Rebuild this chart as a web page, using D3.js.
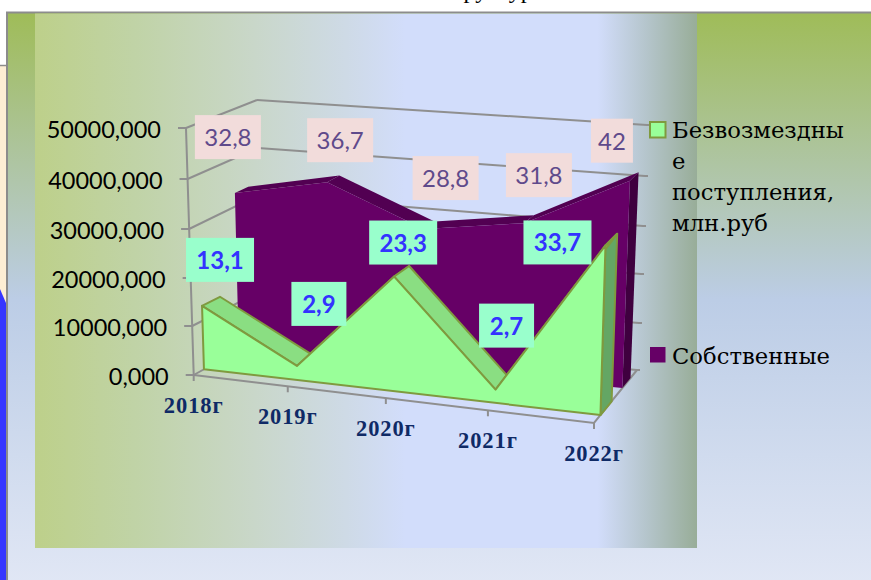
<!DOCTYPE html>
<html>
<head>
<meta charset="utf-8">
<script src="https://cdn.jsdelivr.net/npm/d3@7"></script>
<style>
  html, body { margin: 0; padding: 0; background: #fff; overflow: hidden; }
  svg { display: block; }
</style>
</head>
<body>
<div id="chart"></div>
<script>
// Chart data
const years = ["2018г", "2019г", "2020г", "2021г", "2022г"];
const ownValues = [32800, 36700, 28800, 31800, 42000];
const grantValues = [13100, 2900, 23300, 2700, 33700];
const ownLabels = ["32,8", "36,7", "28,8", "31,8", "42"];
const grantLabels = ["13,1", "2,9", "23,3", "2,7", "33,7"];
const axisTicks = [0, 10000, 20000, 30000, 40000, 50000];
const grantLegend = ["Безвозмездны", "е", "поступления,", "млн.руб"];
const ownLegend = ["Собственные"];

const width = 871, height = 580;

const svg = d3.select("#chart").append("svg")
    .attr("width", width)
    .attr("height", height);

const defs = svg.append("defs");

function addGradient(id, vertical, stops) {
    const g = defs.append("linearGradient")
        .attr("id", id)
        .attr("x1", 0).attr("y1", 0)
        .attr("x2", vertical ? 0 : 1).attr("y2", vertical ? 1 : 0);
    stops.forEach(s => g.append("stop").attr("offset", s[0]).attr("stop-color", s[1]));
}

addGradient("outerFill", true, [[0, "#9fbc58"], [0.5, "#bccde6"], [1, "#e1e7f5"]]);
addGradient("plotFill", false, [
    [0, "#bdd08a"], [0.15, "#c0d3a6"], [0.33, "#c9d7c9"], [0.47, "#cedae6"],
    [0.56, "#d2ddfb"], [0.85, "#d2ddfb"], [0.92, "#b6c6ce"], [1, "#98ad98"]
]);

// Page behind the chart
svg.append("rect").attr("x", 0).attr("y", 66).attr("width", 7).attr("height", 245).attr("fill", "#fdeed4");
svg.append("path").attr("d", "M0,289 L6,303 L6,580 L0,580 Z").attr("fill", "#3636ff");
svg.append("line").attr("x1", 0).attr("x2", 7).attr("y1", 65.5).attr("y2", 65.5).attr("stroke", "#8c8c8c").attr("stroke-width", 1.5);
svg.append("text").attr("x", 437).attr("y", -2)
    .attr("font-family", "Liberation Serif").attr("font-size", 24)
    .text("Структура");

// Outer panel and plot panel
svg.append("rect").attr("x", 7).attr("y", 12.5).attr("width", 870).attr("height", 575)
    .attr("fill", "url(#outerFill)").attr("stroke", "#8c8c8c").attr("stroke-width", 2);
svg.append("rect").attr("x", 35).attr("y", 13.5).attr("width", 662).attr("height", 534.5)
    .attr("fill", "url(#plotFill)");

// 3D box: one value scale per vertical edge, then blended by category and depth
const frontLeftY = d3.scaleLinear().domain(axisTicks).range([375, 326, 278, 229, 179, 128]);
const backLeftY = d3.scaleLinear().domain(axisTicks).range([337, 291, 243, 195, 148, 100]);
const frontRightY = d3.scaleLinear().domain(axisTicks).range([423, 373, 322, 271, 220, 168]);
const backRightY = d3.scaleLinear().domain(axisTicks).range([370, 323, 274, 226, 176, 125]);
const frontLeftX = d3.scaleLinear().domain([0, 50000]).range([193.7, 186]);
const backLeftX = d3.scaleLinear().domain([0, 50000]).range([262, 257]);
const frontRightX = d3.scaleLinear().domain([0, 50000]).range([594, 601]);
const backRightX = d3.scaleLinear().domain([0, 50000]).range([637, 647]);

// Perspective makes the nearer categories wider
const categoryPos = d3.scaleLinear().domain([0, 1, 2, 3, 4]).range([0, 0.235, 0.48, 0.735, 1]);

function project(i, v, d) {
    const u = categoryPos(i);
    const lx = frontLeftX(v) + (backLeftX(v) - frontLeftX(v)) * d;
    const rx = frontRightX(v) + (backRightX(v) - frontRightX(v)) * d;
    const ly = frontLeftY(v) + (backLeftY(v) - frontLeftY(v)) * d;
    const ry = frontRightY(v) + (backRightY(v) - frontRightY(v)) * d;
    return [lx + (rx - lx) * u, ly + (ry - ly) * u];
}

const line = d3.line();
const gridColor = "#8f8f8f";

// Walls and gridlines
const grid = svg.append("g").attr("fill", "none").attr("stroke", gridColor).attr("stroke-width", 2);
axisTicks.forEach(v => {
    grid.append("path").attr("d", line([project(0, v, 1), project(4, v, 1), [project(4, v, 1)[0] + 3, project(4, v, 1)[1]]]));
    grid.append("path").attr("d", line([project(0, v, 0), project(0, v, 1)]));
    // tick on the value axis
    const p = project(0, v, 0);
    grid.append("path").attr("d", line([[p[0] - 8, p[1]], p]));
});
grid.append("path").attr("d", line([project(0, 0, 0), project(0, 50000, 0)]));
grid.append("path").attr("d", line([project(0, 0, 0), project(4, 0, 0), project(4, 0, 1)]));
years.forEach((y, i) => {
    const p = project(i, 0, 0);
    grid.append("path").attr("d", line([p, [p[0], p[1] + 6]]));
});

// One 3D area: side strips first, front face on top
function drawArea(values, d0, d1, colors) {
    const g = svg.append("g")
        .attr("stroke", colors.stroke)
        .attr("stroke-width", colors.strokeWidth)
        .attr("stroke-linejoin", "round");
    const last = values.length - 1;

    g.append("path")
        .attr("d", line([project(last, 0, d0), project(last, 0, d1), project(last, values[last], d1), project(last, values[last], d0)]) + "Z")
        .attr("fill", colors.side);

    d3.pairs(values).forEach((pair, i) => {
        g.append("path")
            .attr("d", line([project(i, pair[0], d0), project(i + 1, pair[1], d0), project(i + 1, pair[1], d1), project(i, pair[0], d1)]) + "Z")
            .attr("fill", colors.top);
    });

    const outline = values.map((v, i) => project(i, v, d0));
    outline.push(project(last, 0, d0), project(0, 0, d0));
    g.append("path").attr("d", line(outline) + "Z").attr("fill", colors.front);
}

drawArea(ownValues, 0.66, 0.85, { front: "#660066", top: "#520052", side: "#3f003f", stroke: "none", strokeWidth: 0 });
drawArea(grantValues, 0.15, 0.41, { front: "#99ff99", top: "#8ade82", side: "#64a664", stroke: "#7f9a3f", strokeWidth: 2 });

// Value axis labels
svg.append("g").selectAll("text").data(axisTicks).enter().append("text")
    .attr("x", d => project(0, d, 0)[0] - 25)
    .attr("y", d => project(0, d, 0)[1] + 10)
    .attr("text-anchor", "end")
    .attr("font-family", "Lato").attr("font-size", 23.5)
    .attr("fill", "#000")
    .text(d => d3.format("d")(d) + ",000");

// Category labels
svg.append("g").selectAll("text").data(years).enter().append("text")
    .attr("x", (d, i) => project(i, 0, 0)[0])
    .attr("y", (d, i) => project(i, 0, 0)[1] + 38)
    .attr("text-anchor", "middle")
    .attr("font-family", "Liberation Serif").attr("font-weight", "bold").attr("font-size", 22.5)
    .attr("letter-spacing", 0.9)
    .attr("fill", "#0f2a66")
    .text(d => d);

// Data label boxes, offset from the top of each area at its front edge
const ownOffsets = [[-7, -56], [13, -42], [22, -51], [15, -48], [-18, -40]];
const grantOffsets = [[18, -46], [22, -62], [9, -34], [11, -64], [-48, -3]];

function drawLabels(values, labels, offsets, depth, style) {
    const g = svg.append("g").selectAll("g").data(values).enter().append("g")
        .attr("transform", (v, i) => {
            const p = project(i, v, depth);
            return `translate(${p[0] + offsets[i][0]},${p[1] + offsets[i][1]})`;
        });
    g.append("rect")
        .attr("x", (v, i) => -labels[i].length * style.charBox - style.padBox)
        .attr("y", -22)
        .attr("width", (v, i) => 2 * (labels[i].length * style.charBox + style.padBox))
        .attr("height", 44)
        .attr("fill", style.fill);
    g.append("text")
        .attr("y", 9)
        .attr("text-anchor", "middle")
        .attr("font-family", "Lato").attr("font-size", 24)
        .attr("font-weight", style.weight)
        .attr("fill", style.color)
        .text((v, i) => labels[i]);
}

drawLabels(ownValues, ownLabels, ownOffsets, 0.66, { fill: "#f2dcdb", color: "#5f4a8b", weight: "normal", charBox: 6, padBox: 9 });
drawLabels(grantValues, grantLabels, grantOffsets, 0.15, { fill: "#99ffcc", color: "#3333ff", weight: "bold", charBox: 6.5, padBox: 8 });

// Legend
const legend = svg.append("g").attr("font-family", "DejaVu Serif").attr("font-size", 22.7).attr("fill", "#000");
legend.append("rect").attr("x", 650).attr("y", 122).attr("width", 15.5).attr("height", 15.5)
    .attr("fill", "#99ff99").attr("stroke", "#7f9a3f").attr("stroke-width", 2);
legend.selectAll(".grant").data(grantLegend).enter().append("text")
    .attr("class", "grant")
    .attr("x", 672)
    .attr("y", (d, i) => 138 + i * 31)
    .text(d => d);
legend.append("rect").attr("x", 650).attr("y", 347).attr("width", 15.5).attr("height", 15.5).attr("fill", "#660066");
legend.selectAll(".own").data(ownLegend).enter().append("text")
    .attr("class", "own")
    .attr("x", 672)
    .attr("y", 364)
    .text(d => d);
</script>
</body>
</html>
